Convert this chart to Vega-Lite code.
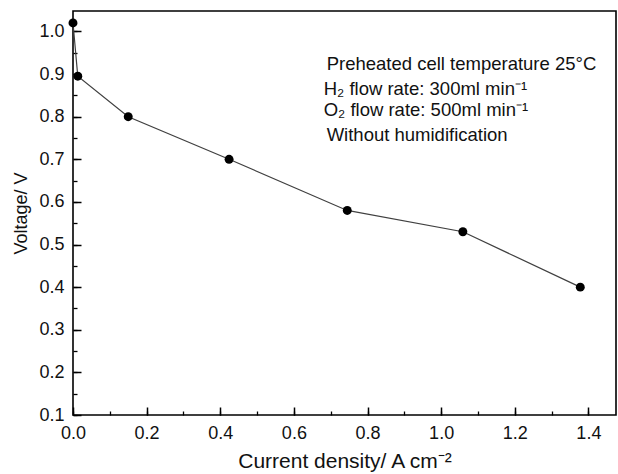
{
  "$schema": "https://vega.github.io/schema/vega-lite/v6.json",
  "autosize": "none",
  "padding": {"left": 73, "top": 11, "right": 2, "bottom": 59},
  "width": 543,
  "height": 404,
  "background": "white",
  "config": {
    "font": "Liberation Sans",
    "view": {"stroke": "#000", "strokeWidth": 1.6},
    "axis": {"domain": false, "grid": false, "labelFontSize": 18, "labelColor": "#111", "titleColor": "#111", "titleFontWeight": "normal", "labelFont": "Liberation Sans", "titleFont": "Liberation Sans"}
  },
  "resolve": {"axis": {"x": "independent", "y": "independent"}},
  "layer": [
    {
      "data": {"values": [
        {"j": 0.0, "v": 1.02},
        {"j": 0.013, "v": 0.895},
        {"j": 0.15, "v": 0.80},
        {"j": 0.424, "v": 0.70},
        {"j": 0.745, "v": 0.58},
        {"j": 1.059, "v": 0.53},
        {"j": 1.378, "v": 0.40}
      ]},
      "mark": {"type": "line", "color": "#404040", "strokeWidth": 1.2, "point": {"filled": true, "color": "#000", "size": 80, "opacity": 1}},
      "encoding": {
        "x": {"field": "j", "type": "quantitative", "scale": {"domain": [0, 1.475], "nice": false, "zero": false},
          "axis": {"orient": "bottom", "tickCount": 7, "tickSize": -8, "tickColor": "#000", "tickWidth": 1.5, "title": "Current density/ A cm\u207B\u00B2", "titleFontSize": 21, "format": ".1f", "labelPadding": 17, "titlePadding": 8, "labelFlush": false, "labelOverlap": false}},
        "y": {"field": "v", "type": "quantitative", "scale": {"domain": [0.1, 1.048], "nice": false, "zero": false},
          "axis": {"orient": "left", "tickCount": 10, "tickSize": -8, "tickColor": "#000", "tickWidth": 1.5, "title": "Voltage/ V", "titleFontSize": 18, "format": ".1f", "labelPadding": 17, "titlePadding": 8, "labelFlush": false, "labelOverlap": false}}
      }
    },
    {
      "data": {"values": [
        {"j": 0.689, "v": 0.923, "t": "Preheated cell temperature 25\u00B0C"},
        {"j": 0.681, "v": 0.866, "t": "H\u2082 flow rate: 300ml min\u207B\u00B9"},
        {"j": 0.681, "v": 0.815, "t": "O\u2082 flow rate: 500ml min\u207B\u00B9"},
        {"j": 0.689, "v": 0.758, "t": "Without humidification"}
      ]},
      "mark": {"type": "text", "align": "left", "baseline": "middle", "fontSize": 18.5, "color": "#111", "font": "Liberation Sans"},
      "encoding": {
        "x": {"field": "j", "type": "quantitative",
          "axis": {"orient": "bottom", "tickCount": 14, "tickSize": -4, "tickColor": "#000", "tickWidth": 1.3, "title": null, "labels": false}},
        "y": {"field": "v", "type": "quantitative",
          "axis": {"orient": "left", "tickCount": 19, "tickSize": -4, "tickColor": "#000", "tickWidth": 1.3, "title": null, "labels": false}},
        "text": {"field": "t"}
      }
    }
  ]
}
